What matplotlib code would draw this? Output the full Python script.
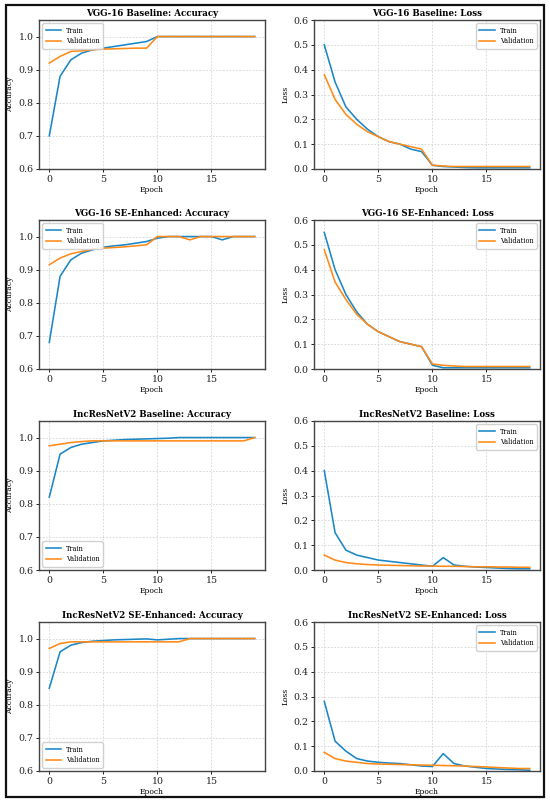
import matplotlib
matplotlib.use("Agg")
import matplotlib.pyplot as plt
from matplotlib.patches import Rectangle

plt.rcParams['font.family'] = ['DejaVu Serif']

epochs = list(range(20))

vgg_base_acc_train = [0.70, 0.88, 0.93, 0.95, 0.96, 0.965, 0.97, 0.975, 0.98, 0.985,
                      1.0, 1.0, 1.0, 1.0, 1.0, 1.0, 1.0, 1.0, 1.0, 1.0]
vgg_base_acc_val = [0.92, 0.94, 0.955, 0.957, 0.96, 0.962, 0.963, 0.964, 0.965, 0.965,
                    1.0, 1.0, 1.0, 1.0, 1.0, 1.0, 1.0, 1.0, 1.0, 1.0]
vgg_base_loss_train = [0.50, 0.35, 0.25, 0.20, 0.16, 0.13, 0.11, 0.10, 0.08, 0.07,
                       0.015, 0.01, 0.008, 0.006, 0.005, 0.005, 0.005, 0.005, 0.005, 0.005]
vgg_base_loss_val = [0.38, 0.28, 0.22, 0.18, 0.15, 0.13, 0.11, 0.10, 0.09, 0.08,
                     0.015, 0.012, 0.01, 0.01, 0.01, 0.01, 0.01, 0.01, 0.01, 0.01]

vgg_se_acc_train = [0.68, 0.88, 0.93, 0.95, 0.96, 0.968, 0.972, 0.975, 0.98, 0.985,
                    0.995, 1.0, 1.0, 1.0, 1.0, 1.0, 0.99, 1.0, 1.0, 1.0]
vgg_se_acc_val = [0.915, 0.935, 0.948, 0.955, 0.962, 0.965, 0.967, 0.969, 0.972, 0.975,
                  1.0, 1.0, 1.0, 0.99, 1.0, 1.0, 1.0, 1.0, 1.0, 1.0]
vgg_se_loss_train = [0.55, 0.40, 0.30, 0.23, 0.18, 0.15, 0.13, 0.11, 0.10, 0.09,
                     0.015, 0.005, 0.005, 0.005, 0.005, 0.005, 0.005, 0.005, 0.005, 0.005]
vgg_se_loss_val = [0.48, 0.35, 0.28, 0.22, 0.18, 0.15, 0.13, 0.11, 0.10, 0.09,
                   0.02, 0.015, 0.012, 0.01, 0.01, 0.01, 0.01, 0.01, 0.01, 0.01]

irn_base_acc_train = [0.82, 0.95, 0.97, 0.98, 0.985, 0.99, 0.992, 0.994, 0.995, 0.996,
                      0.997, 0.998, 1.0, 1.0, 1.0, 1.0, 1.0, 1.0, 1.0, 1.0]
irn_base_acc_val = [0.975, 0.98, 0.985, 0.988, 0.99, 0.99, 0.99, 0.99, 0.99, 0.99,
                    0.99, 0.99, 0.99, 0.99, 0.99, 0.99, 0.99, 0.99, 0.99, 1.0]
irn_base_loss_train = [0.40, 0.15, 0.08, 0.06, 0.05, 0.04, 0.035, 0.03, 0.025, 0.02,
                       0.015, 0.05, 0.02, 0.015, 0.012, 0.01, 0.008, 0.006, 0.005, 0.005]
irn_base_loss_val = [0.06, 0.04, 0.03, 0.025, 0.022, 0.02, 0.019, 0.018, 0.017, 0.016,
                     0.016, 0.015, 0.015, 0.014, 0.013, 0.013, 0.012, 0.012, 0.011, 0.011]

irn_se_acc_train = [0.85, 0.96, 0.98, 0.988, 0.992, 0.994, 0.996, 0.997, 0.998, 0.999,
                    0.996, 0.998, 1.0, 1.0, 1.0, 1.0, 1.0, 1.0, 1.0, 1.0]
irn_se_acc_val = [0.97, 0.985, 0.99, 0.99, 0.99, 0.99, 0.99, 0.99, 0.99, 0.99,
                  0.99, 0.99, 0.99, 1.0, 1.0, 1.0, 1.0, 1.0, 1.0, 1.0]
irn_se_loss_train = [0.28, 0.12, 0.08, 0.05, 0.04, 0.035, 0.032, 0.03, 0.025, 0.02,
                     0.018, 0.07, 0.03, 0.02, 0.015, 0.01, 0.008, 0.006, 0.005, 0.003]
irn_se_loss_val = [0.075, 0.05, 0.04, 0.035, 0.03, 0.028, 0.027, 0.026, 0.025, 0.024,
                   0.023, 0.022, 0.021, 0.02, 0.018, 0.016, 0.014, 0.012, 0.01, 0.01]

model_names = ["VGG-16 Baseline", "VGG-16 SE-Enhanced", "IncResNetV2 Baseline", "IncResNetV2 SE-Enhanced"]
acc_series = [(vgg_base_acc_train, vgg_base_acc_val), (vgg_se_acc_train, vgg_se_acc_val),
              (irn_base_acc_train, irn_base_acc_val), (irn_se_acc_train, irn_se_acc_val)]
loss_series = [(vgg_base_loss_train, vgg_base_loss_val), (vgg_se_loss_train, vgg_se_loss_val),
               (irn_base_loss_train, irn_base_loss_val), (irn_se_loss_train, irn_se_loss_val)]
acc_legend_loc = ["upper left", "upper left", "lower left", "lower left"]

TRAIN_C = "#1b87c6"
VAL_C = "#ff8a18"

W, H = 550, 802
fig = plt.figure(figsize=(5.5, 8.02), dpi=100)

row_tops = [20, 220, 421, 622]
ax_h = 149
ax_w = 226
col_lefts = [39, 314]


def style(ax, title, ylabel):
    ax.set_title(title, fontsize=6.2, fontweight='bold', pad=3)
    ax.set_xlabel("Epoch", fontsize=5.5, labelpad=2)
    ax.set_ylabel(ylabel, fontsize=5.5, labelpad=3)
    ax.tick_params(labelsize=6.8, length=2.5, width=0.7, pad=1.5, colors='#222222')
    ax.grid(True, linestyle=(0, (2, 2)), linewidth=0.6, color='#cfcfcf', alpha=0.9)
    for s in ax.spines.values():
        s.set_color('#444444')
        s.set_linewidth(1.0)
    ax.set_xticks([0, 5, 10, 15])


leg_kw = dict(fontsize=4.7, handlelength=2.4, framealpha=0.9, edgecolor='#cccccc',
              fancybox=True, borderpad=0.5, labelspacing=0.45, handletextpad=0.7)

for i in range(4):
    b = 1 - (row_tops[i] + ax_h) / H
    axa = fig.add_axes([col_lefts[0] / W, b, ax_w / W, ax_h / H])
    tr, va = acc_series[i]
    axa.plot(epochs, tr, color=TRAIN_C, lw=1.15, label="Train")
    axa.plot(epochs, va, color=VAL_C, lw=1.15, label="Validation")
    axa.set_ylim(0.6, 1.05)
    axa.set_yticks([0.6, 0.7, 0.8, 0.9, 1.0])
    style(axa, f"{model_names[i]}: Accuracy", "Accuracy")
    axa.legend(loc=acc_legend_loc[i], **leg_kw)

    axl = fig.add_axes([col_lefts[1] / W, b, ax_w / W, ax_h / H])
    tr, va = loss_series[i]
    axl.plot(epochs, tr, color=TRAIN_C, lw=1.15, label="Train")
    axl.plot(epochs, va, color=VAL_C, lw=1.15, label="Validation")
    axl.set_ylim(0.0, 0.6)
    axl.set_yticks([0.0, 0.1, 0.2, 0.3, 0.4, 0.5, 0.6])
    style(axl, f"{model_names[i]}: Loss", "Loss")
    axl.legend(loc="upper right", **leg_kw)

fig.patches.append(Rectangle((6 / W, 1 - 797 / H), 538 / W, 792 / H, transform=fig.transFigure,
                             fill=False, edgecolor='#111111', linewidth=1.6))

fig.savefig("out.png", dpi=100)
